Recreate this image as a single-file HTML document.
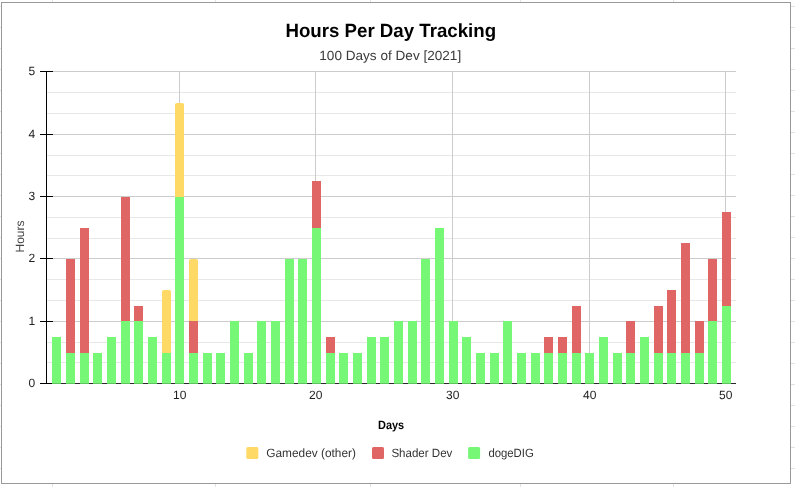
<!DOCTYPE html><html><head><meta charset="utf-8"><title>Hours Per Day Tracking</title>
<style>html,body{margin:0;padding:0;background:#fff;}body{width:795px;height:487px;overflow:hidden;font-family:"Liberation Sans",sans-serif;}svg{display:block;will-change:transform;}text{font-family:"Liberation Sans",sans-serif;text-rendering:geometricPrecision;}</style></head><body>
<svg width="795" height="487" viewBox="0 0 795 487">
<rect x="0" y="0" width="795" height="487" fill="#fff"/>
<g shape-rendering="crispEdges" fill="#e2e2e2">
<rect x="0" y="6" width="795" height="1"/>
<rect x="0" y="27" width="795" height="1"/>
<rect x="0" y="48" width="795" height="1"/>
<rect x="0" y="69" width="795" height="1"/>
<rect x="0" y="90" width="795" height="1"/>
<rect x="0" y="111" width="795" height="1"/>
<rect x="0" y="132" width="795" height="1"/>
<rect x="0" y="153" width="795" height="1"/>
<rect x="0" y="174" width="795" height="1"/>
<rect x="0" y="195" width="795" height="1"/>
<rect x="0" y="216" width="795" height="1"/>
<rect x="0" y="237" width="795" height="1"/>
<rect x="0" y="258" width="795" height="1"/>
<rect x="0" y="279" width="795" height="1"/>
<rect x="0" y="300" width="795" height="1"/>
<rect x="0" y="321" width="795" height="1"/>
<rect x="0" y="342" width="795" height="1"/>
<rect x="0" y="363" width="795" height="1"/>
<rect x="0" y="384" width="795" height="1"/>
<rect x="0" y="405" width="795" height="1"/>
<rect x="0" y="426" width="795" height="1"/>
<rect x="0" y="447" width="795" height="1"/>
<rect x="0" y="468" width="795" height="1"/>
<rect x="0" y="489" width="795" height="1"/>
<rect x="52" y="0" width="1" height="487"/>
<rect x="215" y="0" width="1" height="487"/>
<rect x="370" y="0" width="1" height="487"/>
<rect x="520" y="0" width="1" height="487"/>
<rect x="673" y="0" width="1" height="487"/>
</g>
<rect x="1.5" y="2.5" width="789" height="481" fill="#fff" stroke="#999" stroke-width="1" shape-rendering="crispEdges"/>
<g shape-rendering="crispEdges">
<rect x="47" y="92" width="689" height="1" fill="#e8e8e8"/>
<rect x="47" y="113" width="689" height="1" fill="#e8e8e8"/>
<rect x="47" y="155" width="689" height="1" fill="#e8e8e8"/>
<rect x="47" y="175" width="689" height="1" fill="#e8e8e8"/>
<rect x="47" y="217" width="689" height="1" fill="#e8e8e8"/>
<rect x="47" y="238" width="689" height="1" fill="#e8e8e8"/>
<rect x="47" y="279" width="689" height="1" fill="#e8e8e8"/>
<rect x="47" y="300" width="689" height="1" fill="#e8e8e8"/>
<rect x="47" y="342" width="689" height="1" fill="#e8e8e8"/>
<rect x="47" y="362" width="689" height="1" fill="#e8e8e8"/>
<rect x="47" y="71" width="689" height="1" fill="#ccc"/>
<rect x="47" y="134" width="689" height="1" fill="#ccc"/>
<rect x="47" y="196" width="689" height="1" fill="#ccc"/>
<rect x="47" y="258" width="689" height="1" fill="#ccc"/>
<rect x="47" y="321" width="689" height="1" fill="#ccc"/>
<rect x="179" y="71" width="1" height="313" fill="#ccc"/>
<rect x="315" y="71" width="1" height="313" fill="#ccc"/>
<rect x="452" y="71" width="1" height="313" fill="#ccc"/>
<rect x="589" y="71" width="1" height="313" fill="#ccc"/>
<rect x="725" y="71" width="1" height="313" fill="#ccc"/>
<rect x="40" y="383" width="12" height="1" fill="#000"/><rect x="52" y="383" width="684" height="1" fill="#2a2a2a"/>
<rect x="46" y="71" width="1" height="313" fill="#000"/>
<rect x="40" y="71" width="13" height="1" fill="#000"/>
<rect x="40" y="134" width="13" height="1" fill="#000"/>
<rect x="40" y="196" width="13" height="1" fill="#000"/>
<rect x="40" y="258" width="13" height="1" fill="#000"/>
<rect x="40" y="321" width="13" height="1" fill="#000"/>
<rect x="52" y="337" width="9" height="46" fill="#76f776"/><rect x="52" y="383" width="9" height="1" fill="#5fc65f"/>
<rect x="66" y="353" width="9" height="30" fill="#76f776"/><rect x="66" y="383" width="9" height="1" fill="#5fc65f"/>
<rect x="66" y="259" width="9" height="94" fill="#e06666"/>
<rect x="80" y="353" width="9" height="30" fill="#76f776"/><rect x="80" y="383" width="9" height="1" fill="#5fc65f"/>
<rect x="80" y="228" width="9" height="125" fill="#e06666"/>
<rect x="93" y="353" width="9" height="30" fill="#76f776"/><rect x="93" y="383" width="9" height="1" fill="#5fc65f"/>
<rect x="107" y="337" width="9" height="46" fill="#76f776"/><rect x="107" y="383" width="9" height="1" fill="#5fc65f"/>
<rect x="121" y="321" width="9" height="62" fill="#76f776"/><rect x="121" y="383" width="9" height="1" fill="#5fc65f"/>
<rect x="121" y="197" width="9" height="124" fill="#e06666"/>
<rect x="134" y="321" width="9" height="62" fill="#76f776"/><rect x="134" y="383" width="9" height="1" fill="#5fc65f"/>
<rect x="134" y="306" width="9" height="15" fill="#e06666"/>
<rect x="148" y="337" width="9" height="46" fill="#76f776"/><rect x="148" y="383" width="9" height="1" fill="#5fc65f"/>
<rect x="162" y="353" width="9" height="30" fill="#76f776"/><rect x="162" y="383" width="9" height="1" fill="#5fc65f"/>
</g><path d="M162 353 V292.0 Q162 290 164.0 290 H169.0 Q171 290 171 292.0 V353 Z" fill="#ffd966"/><g shape-rendering="crispEdges">
<rect x="175" y="197" width="9" height="186" fill="#76f776"/><rect x="175" y="383" width="9" height="1" fill="#5fc65f"/>
</g><path d="M175 197 V105.0 Q175 103 177.0 103 H182.0 Q184 103 184 105.0 V197 Z" fill="#ffd966"/><g shape-rendering="crispEdges">
<rect x="189" y="353" width="9" height="30" fill="#76f776"/><rect x="189" y="383" width="9" height="1" fill="#5fc65f"/>
<rect x="189" y="321" width="9" height="32" fill="#e06666"/>
</g><path d="M189 321 V261.0 Q189 259 191.0 259 H196.0 Q198 259 198 261.0 V321 Z" fill="#ffd966"/><g shape-rendering="crispEdges">
<rect x="203" y="353" width="9" height="30" fill="#76f776"/><rect x="203" y="383" width="9" height="1" fill="#5fc65f"/>
<rect x="216" y="353" width="9" height="30" fill="#76f776"/><rect x="216" y="383" width="9" height="1" fill="#5fc65f"/>
<rect x="230" y="321" width="9" height="62" fill="#76f776"/><rect x="230" y="383" width="9" height="1" fill="#5fc65f"/>
<rect x="244" y="353" width="9" height="30" fill="#76f776"/><rect x="244" y="383" width="9" height="1" fill="#5fc65f"/>
<rect x="257" y="321" width="9" height="62" fill="#76f776"/><rect x="257" y="383" width="9" height="1" fill="#5fc65f"/>
<rect x="271" y="321" width="9" height="62" fill="#76f776"/><rect x="271" y="383" width="9" height="1" fill="#5fc65f"/>
<rect x="285" y="259" width="9" height="124" fill="#76f776"/><rect x="285" y="383" width="9" height="1" fill="#5fc65f"/>
<rect x="298" y="259" width="9" height="124" fill="#76f776"/><rect x="298" y="383" width="9" height="1" fill="#5fc65f"/>
<rect x="312" y="228" width="9" height="155" fill="#76f776"/><rect x="312" y="383" width="9" height="1" fill="#5fc65f"/>
<rect x="312" y="181" width="9" height="47" fill="#e06666"/>
<rect x="326" y="353" width="9" height="30" fill="#76f776"/><rect x="326" y="383" width="9" height="1" fill="#5fc65f"/>
<rect x="326" y="337" width="9" height="16" fill="#e06666"/>
<rect x="339" y="353" width="9" height="30" fill="#76f776"/><rect x="339" y="383" width="9" height="1" fill="#5fc65f"/>
<rect x="353" y="353" width="9" height="30" fill="#76f776"/><rect x="353" y="383" width="9" height="1" fill="#5fc65f"/>
<rect x="367" y="337" width="9" height="46" fill="#76f776"/><rect x="367" y="383" width="9" height="1" fill="#5fc65f"/>
<rect x="380" y="337" width="9" height="46" fill="#76f776"/><rect x="380" y="383" width="9" height="1" fill="#5fc65f"/>
<rect x="394" y="321" width="9" height="62" fill="#76f776"/><rect x="394" y="383" width="9" height="1" fill="#5fc65f"/>
<rect x="408" y="321" width="9" height="62" fill="#76f776"/><rect x="408" y="383" width="9" height="1" fill="#5fc65f"/>
<rect x="421" y="259" width="9" height="124" fill="#76f776"/><rect x="421" y="383" width="9" height="1" fill="#5fc65f"/>
<rect x="435" y="228" width="9" height="155" fill="#76f776"/><rect x="435" y="383" width="9" height="1" fill="#5fc65f"/>
<rect x="449" y="321" width="9" height="62" fill="#76f776"/><rect x="449" y="383" width="9" height="1" fill="#5fc65f"/>
<rect x="462" y="337" width="9" height="46" fill="#76f776"/><rect x="462" y="383" width="9" height="1" fill="#5fc65f"/>
<rect x="476" y="353" width="9" height="30" fill="#76f776"/><rect x="476" y="383" width="9" height="1" fill="#5fc65f"/>
<rect x="490" y="353" width="9" height="30" fill="#76f776"/><rect x="490" y="383" width="9" height="1" fill="#5fc65f"/>
<rect x="503" y="321" width="9" height="62" fill="#76f776"/><rect x="503" y="383" width="9" height="1" fill="#5fc65f"/>
<rect x="517" y="353" width="9" height="30" fill="#76f776"/><rect x="517" y="383" width="9" height="1" fill="#5fc65f"/>
<rect x="531" y="353" width="9" height="30" fill="#76f776"/><rect x="531" y="383" width="9" height="1" fill="#5fc65f"/>
<rect x="544" y="353" width="9" height="30" fill="#76f776"/><rect x="544" y="383" width="9" height="1" fill="#5fc65f"/>
<rect x="544" y="337" width="9" height="16" fill="#e06666"/>
<rect x="558" y="353" width="9" height="30" fill="#76f776"/><rect x="558" y="383" width="9" height="1" fill="#5fc65f"/>
<rect x="558" y="337" width="9" height="16" fill="#e06666"/>
<rect x="572" y="353" width="9" height="30" fill="#76f776"/><rect x="572" y="383" width="9" height="1" fill="#5fc65f"/>
<rect x="572" y="306" width="9" height="47" fill="#e06666"/>
<rect x="585" y="353" width="9" height="30" fill="#76f776"/><rect x="585" y="383" width="9" height="1" fill="#5fc65f"/>
<rect x="599" y="337" width="9" height="46" fill="#76f776"/><rect x="599" y="383" width="9" height="1" fill="#5fc65f"/>
<rect x="613" y="353" width="9" height="30" fill="#76f776"/><rect x="613" y="383" width="9" height="1" fill="#5fc65f"/>
<rect x="626" y="353" width="9" height="30" fill="#76f776"/><rect x="626" y="383" width="9" height="1" fill="#5fc65f"/>
<rect x="626" y="321" width="9" height="32" fill="#e06666"/>
<rect x="640" y="337" width="9" height="46" fill="#76f776"/><rect x="640" y="383" width="9" height="1" fill="#5fc65f"/>
<rect x="654" y="353" width="9" height="30" fill="#76f776"/><rect x="654" y="383" width="9" height="1" fill="#5fc65f"/>
<rect x="654" y="306" width="9" height="47" fill="#e06666"/>
<rect x="667" y="353" width="9" height="30" fill="#76f776"/><rect x="667" y="383" width="9" height="1" fill="#5fc65f"/>
<rect x="667" y="290" width="9" height="63" fill="#e06666"/>
<rect x="681" y="353" width="9" height="30" fill="#76f776"/><rect x="681" y="383" width="9" height="1" fill="#5fc65f"/>
<rect x="681" y="243" width="9" height="110" fill="#e06666"/>
<rect x="695" y="353" width="9" height="30" fill="#76f776"/><rect x="695" y="383" width="9" height="1" fill="#5fc65f"/>
<rect x="695" y="321" width="9" height="32" fill="#e06666"/>
<rect x="708" y="321" width="9" height="62" fill="#76f776"/><rect x="708" y="383" width="9" height="1" fill="#5fc65f"/>
<rect x="708" y="259" width="9" height="62" fill="#e06666"/>
<rect x="722" y="306" width="9" height="77" fill="#76f776"/><rect x="722" y="383" width="9" height="1" fill="#5fc65f"/>
<rect x="722" y="212" width="9" height="94" fill="#e06666"/>
</g>
<text x="285.4" y="37.1" textLength="210.7" lengthAdjust="spacingAndGlyphs" font-size="19.1" font-weight="bold" fill="#000">Hours Per Day Tracking</text>
<text x="319.3" y="60.1" textLength="141.9" lengthAdjust="spacingAndGlyphs" font-size="13.3" fill="#3a3a3a">100 Days of Dev [2021]</text>
<text x="35.2" y="74.6" text-anchor="end" font-size="12" fill="#222">5</text>
<text x="35.2" y="137.6" text-anchor="end" font-size="12" fill="#222">4</text>
<text x="35.2" y="199.6" text-anchor="end" font-size="12" fill="#222">3</text>
<text x="35.2" y="261.6" text-anchor="end" font-size="12" fill="#222">2</text>
<text x="35.2" y="324.6" text-anchor="end" font-size="12" fill="#222">1</text>
<text x="35.2" y="386.6" text-anchor="end" font-size="12" fill="#222">0</text>
<text x="179.7" y="398.9" text-anchor="middle" font-size="12" fill="#222">10</text>
<text x="315.7" y="398.9" text-anchor="middle" font-size="12" fill="#222">20</text>
<text x="452.7" y="398.9" text-anchor="middle" font-size="12" fill="#222">30</text>
<text x="589.7" y="398.9" text-anchor="middle" font-size="12" fill="#222">40</text>
<text x="725.7" y="398.9" text-anchor="middle" font-size="12" fill="#222">50</text>
<text transform="translate(24.3,236.5) rotate(-90)" text-anchor="middle" font-size="12" fill="#444">Hours</text>
<text x="378" y="428.8" textLength="26.2" lengthAdjust="spacingAndGlyphs" font-size="12" font-weight="bold" fill="#000">Days</text>
<rect x="246.3" y="447" width="12" height="12" rx="1.5" ry="1.5" fill="#ffd966"/>
<text x="266.3" y="456.9" textLength="89.6" lengthAdjust="spacingAndGlyphs" font-size="12" fill="#333">Gamedev (other)</text>
<rect x="372.0" y="447" width="12" height="12" rx="1.5" ry="1.5" fill="#e06666"/>
<text x="391.4" y="456.9" textLength="61.0" lengthAdjust="spacingAndGlyphs" font-size="12" fill="#333">Shader Dev</text>
<rect x="468.1" y="447" width="12" height="12" rx="1.5" ry="1.5" fill="#76f776"/>
<text x="488.4" y="456.9" textLength="45.4" lengthAdjust="spacingAndGlyphs" font-size="12" fill="#333">dogeDIG</text>
</svg></body></html>
